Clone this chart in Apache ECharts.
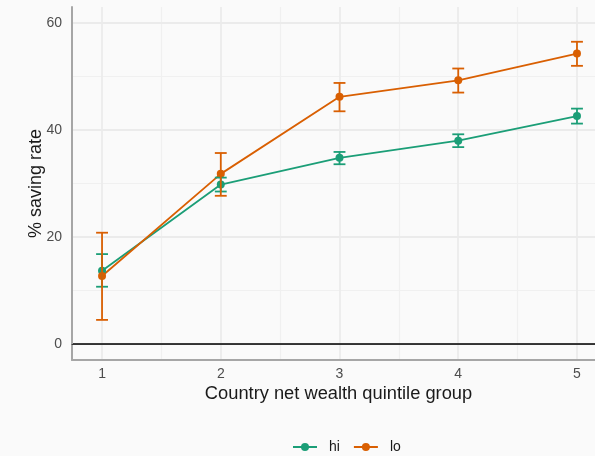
<!DOCTYPE html>
<html>
<head>
<meta charset="utf-8">
<script src="https://cdn.jsdelivr.net/npm/echarts@6/dist/echarts.min.js"></script>
<style>
  html, body { margin: 0; padding: 0; background: #fafafa; }
  #chart { width: 595px; height: 456px; }
</style>
</head>
<body>
<div id="chart"></div>
<script>
// Quintile groups on the x axis
const quintiles = [1, 2, 3, 4, 5];

// Mean saving rate (%) and 95% interval for each group
const hiMean = [13.7, 29.8, 34.8, 38.0, 42.6];
const hiLow  = [10.7, 28.5, 33.6, 36.8, 41.2];
const hiHigh = [16.8, 31.1, 35.9, 39.2, 44.0];

const loMean = [12.7, 31.8, 46.2, 49.3, 54.3];
const loLow  = [4.5, 27.7, 43.5, 47.0, 52.0];
const loHigh = [20.8, 35.7, 48.8, 51.5, 56.5];

// Axis ticks
const xTicks = [1, 2, 3, 4, 5];
const xMinorGrid = [1.5, 2.5, 3.5, 4.5];
const yTicks = [0, 20, 40, 60];
const yMinorGrid = [10, 30, 50];

const GREEN = '#1b9e77';
const ORANGE = '#d95f02';
const FONT = 'Liberation Sans';

const pairs = (xs, ys) => xs.map((x, i) => [x, ys[i]]);
const bars = (xs, lo, hi) => xs.map((x, i) => [x, lo[i], hi[i]]);

function errorBar(color) {
  return function (params, api) {
    const x = api.value(0);
    const top = api.coord([x, api.value(2)]);
    const bot = api.coord([x, api.value(1)]);
    const half = (api.coord([x + 0.05, 0])[0] - api.coord([x - 0.05, 0])[0]) / 2;
    const style = { stroke: color, lineWidth: 1.8 };
    return {
      type: 'group',
      children: [
        { type: 'line', shape: { x1: top[0], y1: top[1], x2: bot[0], y2: bot[1] }, style },
        { type: 'line', shape: { x1: top[0] - half, y1: top[1], x2: top[0] + half, y2: top[1] }, style },
        { type: 'line', shape: { x1: bot[0] - half, y1: bot[1], x2: bot[0] + half, y2: bot[1] }, style }
      ]
    };
  };
}

const majorLine = { color: '#ebebeb', width: 1.8, type: 'solid' };
const minorLine = { color: '#f0f0f0', width: 1.2, type: 'solid' };

const gridLines = [].concat(
  xMinorGrid.map(v => ({ xAxis: v, lineStyle: minorLine })),
  yMinorGrid.map(v => ({ yAxis: v, lineStyle: minorLine })),
  xTicks.map(v => ({ xAxis: v, lineStyle: majorLine })),
  yTicks.map(v => ({ yAxis: v, lineStyle: majorLine })),
  [{ yAxis: 0, lineStyle: { color: '#000000', width: 1.5, type: 'solid' } }]
);

const X_MIN = 0.747;
const X_MAX = 5.236;

const chart = echarts.init(document.getElementById('chart'));
chart.setOption({
  backgroundColor: '#fafafa',
  animation: false,
  textStyle: { fontFamily: FONT },
  grid: { left: 72, right: -10, top: 7, bottom: 96, containLabel: false, outerBoundsMode: 'none' },
  xAxis: [
    {
      type: 'value',
      min: X_MIN,
      max: X_MAX,
      name: 'Country net wealth quintile group',
      nameLocation: 'middle',
      nameGap: 25,
      nameMoveOverlap: false,
      nameTextStyle: { fontSize: 18.3, color: '#1a1a1a', fontFamily: FONT },
      axisLine: { show: true, onZero: false, lineStyle: { color: '#a6a6a6', width: 2 } },
      axisTick: { show: false, customValues: xTicks },
      axisLabel: { customValues: xTicks, margin: 7, fontSize: 14, color: '#4d4d4d', fontFamily: FONT },
      splitLine: { show: false }
    },
    {
      type: 'value',
      position: 'top',
      min: X_MIN,
      max: X_MAX,
      axisLine: { show: true, lineStyle: { color: '#333333', width: 1 } },
      axisTick: { show: false },
      axisLabel: { show: false },
      splitLine: { show: false }
    }
  ],
  yAxis: {
    type: 'value',
    min: -3,
    max: 63,
    name: '% saving rate',
    nameLocation: 'middle',
    nameGap: 27,
    nameMoveOverlap: false,
    nameTextStyle: { fontSize: 18, color: '#1a1a1a', fontFamily: FONT },
    axisLine: { show: true, onZero: false, lineStyle: { color: '#a6a6a6', width: 2 } },
    axisTick: { show: false, customValues: yTicks },
    axisLabel: { customValues: yTicks, margin: 10, fontSize: 14, color: '#4d4d4d', fontFamily: FONT },
    splitLine: { show: false }
  },
  legend: {
    data: ['hi', 'lo'],
    top: 435,
    left: 287,
    itemWidth: 24,
    itemHeight: 10,
    itemGap: 13,
    textStyle: { fontSize: 14, color: '#1a1a1a', fontFamily: FONT, padding: [0, 0, 0, 7] }
  },
  series: [
    {
      name: 'grid',
      type: 'line',
      data: [],
      z: 0,
      silent: true,
      markLine: {
        z: 0,
        silent: true,
        symbol: 'none',
        label: { show: false },
        animation: false,
        data: gridLines
      }
    },
    {
      name: 'hi',
      type: 'line',
      data: pairs(quintiles, hiMean),
      color: GREEN,
      symbol: 'circle',
      symbolSize: 8,
      lineStyle: { width: 1.8, color: GREEN },
      itemStyle: { color: GREEN },
      z: 3
    },
    {
      name: 'lo',
      type: 'line',
      data: pairs(quintiles, loMean),
      color: ORANGE,
      symbol: 'circle',
      symbolSize: 8,
      lineStyle: { width: 1.8, color: ORANGE },
      itemStyle: { color: ORANGE },
      z: 3
    },
    {
      name: 'hi-interval',
      type: 'custom',
      data: bars(quintiles, hiLow, hiHigh),
      renderItem: errorBar(GREEN),
      encode: { x: 0, y: [1, 2] },
      z: 4,
      silent: true
    },
    {
      name: 'lo-interval',
      type: 'custom',
      data: bars(quintiles, loLow, loHigh),
      renderItem: errorBar(ORANGE),
      encode: { x: 0, y: [1, 2] },
      z: 4,
      silent: true
    }
  ]
});
</script>
</body>
</html>
